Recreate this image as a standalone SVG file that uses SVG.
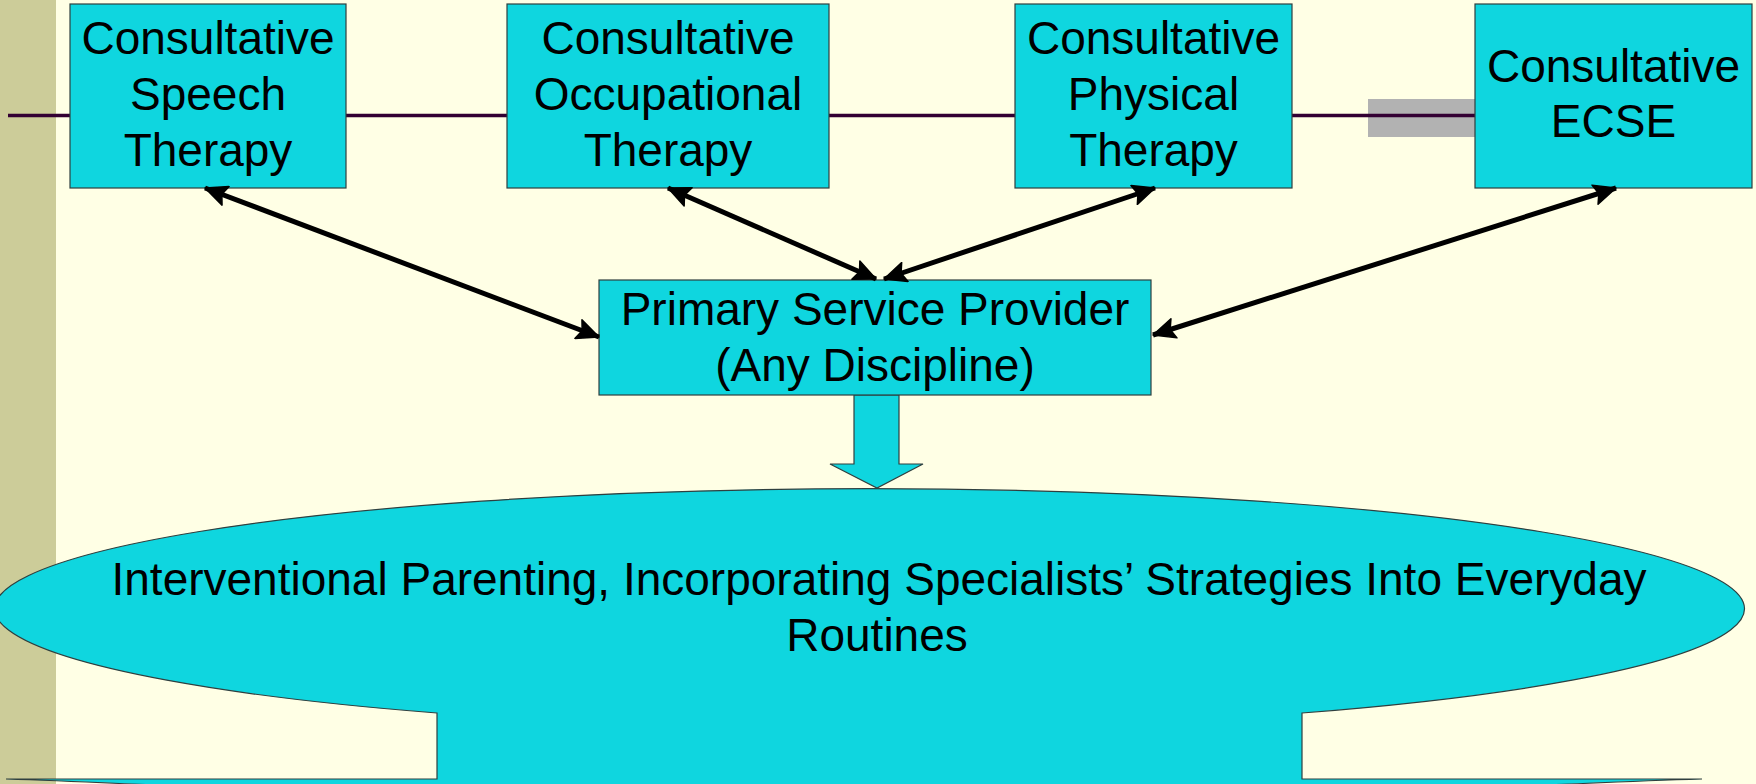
<svg xmlns="http://www.w3.org/2000/svg" width="1756" height="784" viewBox="0 0 1756 784">
<style>
.box{fill:#0FD6DF;stroke:#2F3F3F;stroke-width:1.2}
.t{font-family:"Liberation Sans",Arial,sans-serif;font-size:46px;fill:#000;text-anchor:middle}
.arr{stroke:#000;stroke-width:5;fill:none;marker-start:url(#ah);marker-end:url(#ah)}
</style>
<defs>
<marker id="ah" markerUnits="userSpaceOnUse" viewBox="0 0 24 22" refX="23" refY="11" markerWidth="24" markerHeight="22" orient="auto-start-reverse">
<path d="M1,1 L23,11 L1,21 L5,11 Z" fill="#000" stroke="#000" stroke-width="1.5" stroke-linejoin="round"/>
</marker>
</defs>
<rect x="0" y="0" width="1756" height="784" fill="#FFFFE5"/>
<rect x="0" y="0" width="56" height="784" fill="#CCCC99"/>
<g id="timeline">
<rect x="1368" y="99" width="107" height="38" fill="#B2B2B2"/>
<line x1="8" y1="115.5" x2="1475" y2="115.5" stroke="#330033" stroke-width="3.5"/>
</g>
<g id="bottom">
<path class="box" d="M437,713 A875,120 0 1 1 1302,713 L1302,779 L1702,779 C1600,782 1500,787 1400,792 L300,792 C200,787 100,782 6,779 L437,779 Z"/>
<text class="t" x="879" y="595">Interventional Parenting, Incorporating Specialists’ Strategies Into Everyday</text>
<text class="t" x="877" y="651">Routines</text>
</g>
<g id="block-arrow">
<path class="box" d="M854,395 L899,395 L899,464 L923,464 L877,488 L830,464 L854,464 Z"/>
</g>
<g id="speech">
<rect class="box" x="70" y="4" width="276" height="184"/>
<text class="t" x="208" y="54">Consultative</text>
<text class="t" x="208" y="110">Speech</text>
<text class="t" x="208" y="166">Therapy</text>
</g>
<g id="occupational">
<rect class="box" x="507" y="4" width="322" height="184"/>
<text class="t" x="668" y="54">Consultative</text>
<text class="t" x="668" y="110">Occupational</text>
<text class="t" x="668" y="166">Therapy</text>
</g>
<g id="physical">
<rect class="box" x="1015" y="4" width="277" height="184"/>
<text class="t" x="1153.5" y="54">Consultative</text>
<text class="t" x="1153.5" y="110">Physical</text>
<text class="t" x="1153.5" y="166">Therapy</text>
</g>
<g id="ecse">
<rect class="box" x="1475" y="4" width="277" height="184"/>
<text class="t" x="1613.5" y="82">Consultative</text>
<text class="t" x="1613.5" y="137">ECSE</text>
</g>
<g id="psp">
<rect class="box" x="599" y="280" width="552" height="115"/>
<text class="t" x="875" y="325">Primary Service Provider</text>
<text class="t" x="875" y="381">(Any Discipline)</text>
</g>
<g id="connectors">
<line class="arr" x1="205" y1="188" x2="599" y2="337"/>
<line class="arr" x1="668" y1="188" x2="876" y2="279"/>
<line class="arr" x1="1155" y1="188" x2="884" y2="279"/>
<line class="arr" x1="1616" y1="188" x2="1153" y2="335"/>
</g>
</svg>
